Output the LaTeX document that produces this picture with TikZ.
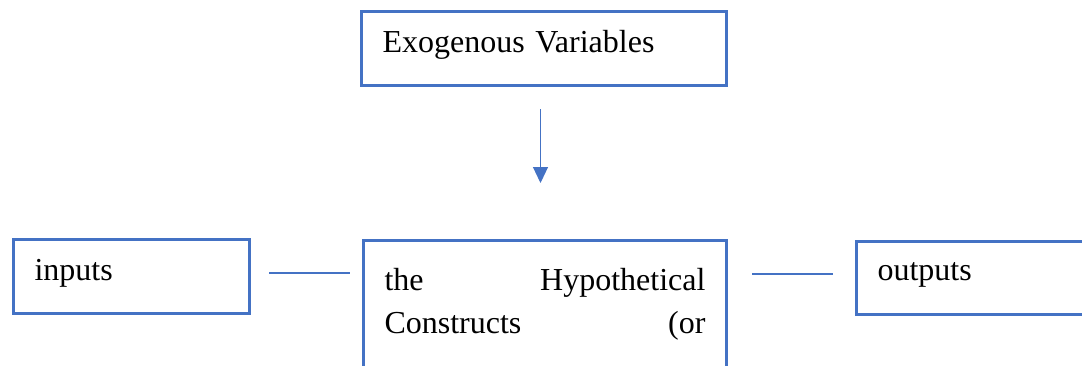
\documentclass[tikz,border=0pt]{standalone}
\usepackage{fontspec}
\setmainfont{Liberation Serif}
\usepackage{tikz}
\usetikzlibrary{arrows.meta}
\definecolor{boxblue}{HTML}{4472C4}

\begin{document}
\begin{tikzpicture}[x=1pt,y=-1pt]
\tikzstyle{box}=[draw=boxblue,line width=3pt,anchor=north west,inner xsep=21pt,inner ysep=0pt,align=left,font=\fontsize{32}{43}\selectfont];
\tikzstyle{link}=[draw=boxblue,line width=1.6pt];
\useasboundingbox (0,0) rectangle (1082,365);

\node[box,text width=323pt,text height=41pt,text depth=33pt](E) at(360,10){Exogenous Variables};
\node[box,text width=194pt,text height=41pt,text depth=33pt](I) at(12,238){inputs};
\node[box,text width=321pt,text height=50pt,text depth=150pt](H) at(362,239){the\hfill Hypothetical\\Constructs\hfill (or};
\node[box,text width=260pt,text height=39pt,text depth=34pt](O) at(855,240){outputs};

\draw[link,line width=1.2pt,-{Triangle[width=15pt,length=16pt]},shorten <=22pt,shorten >=56pt] ([xshift=-3.5pt]E.south)-- ([xshift=-3.5pt]E.south |- H.north);
\draw[link,shorten <=18pt,shorten >=12pt] ([yshift=3.5pt]I.east)-- ([yshift=3.5pt]I.east -| H.west);
\draw[link,shorten <=24pt,shorten >=22pt] ([yshift=4pt]O.west -| H.east)-- ([yshift=4pt]O.west);

\end{tikzpicture}
\end{document}
